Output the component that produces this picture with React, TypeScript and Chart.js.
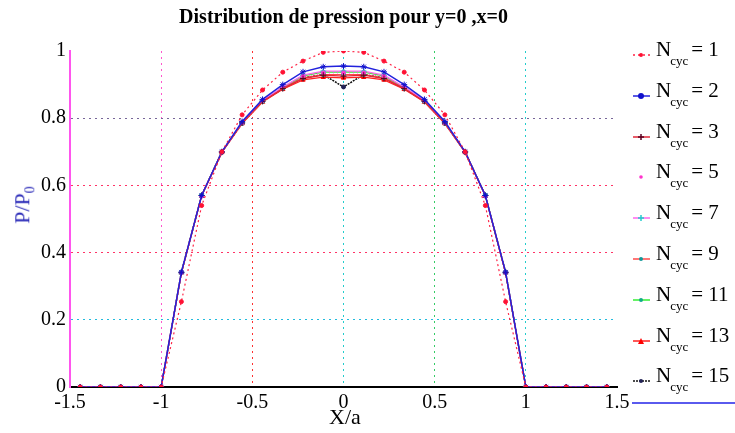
import React, { useEffect, useRef } from "react";
import { Chart, registerables } from "chart.js";
Chart.register(...registerables);

const xPositions = [-1.444, -1.333, -1.222, -1.111, -1, -0.889, -0.778, -0.667, -0.556, -0.444, -0.333, -0.222, -0.111, 0, 0.111, 0.222, 0.333, 0.444, 0.556, 0.667, 0.778, 0.889, 1, 1.111, 1.222, 1.333, 1.444];

const n1 = [0, 0, 0, 0, 0, 0.254, 0.54, 0.7, 0.81, 0.884, 0.937, 0.97, 0.996, 1.0, 0.996, 0.97, 0.937, 0.884, 0.81, 0.7, 0.54, 0.254, 0, 0, 0, 0, 0];
const n2 = [0, 0, 0, 0, 0, 0.342, 0.57, 0.7, 0.79, 0.856, 0.9, 0.938, 0.953, 0.955, 0.953, 0.938, 0.9, 0.856, 0.79, 0.7, 0.57, 0.342, 0, 0, 0, 0, 0];
const n3 = [0, 0, 0, 0, 0, 0.34, 0.57, 0.699, 0.786, 0.85, 0.888, 0.918, 0.928, 0.925, 0.928, 0.918, 0.888, 0.85, 0.786, 0.699, 0.57, 0.34, 0, 0, 0, 0, 0];
const n5 = [0, 0, 0, 0, 0, 0.34, 0.568, 0.7, 0.786, 0.852, 0.892, 0.925, 0.935, 0.935, 0.935, 0.925, 0.892, 0.852, 0.786, 0.7, 0.568, 0.34, 0, 0, 0, 0, 0];
const n7 = [0, 0, 0, 0, 0, 0.34, 0.57, 0.7, 0.787, 0.853, 0.893, 0.928, 0.94, 0.94, 0.94, 0.928, 0.893, 0.853, 0.787, 0.7, 0.57, 0.34, 0, 0, 0, 0, 0];
const n9 = [0, 0, 0, 0, 0, 0.34, 0.569, 0.699, 0.785, 0.85, 0.889, 0.92, 0.93, 0.93, 0.93, 0.92, 0.889, 0.85, 0.785, 0.699, 0.569, 0.34, 0, 0, 0, 0, 0];
const n11 = [0, 0, 0, 0, 0, 0.34, 0.57, 0.7, 0.786, 0.852, 0.891, 0.926, 0.937, 0.938, 0.937, 0.926, 0.891, 0.852, 0.786, 0.7, 0.57, 0.34, 0, 0, 0, 0, 0];
const n13 = [0, 0, 0, 0, 0, 0.34, 0.569, 0.698, 0.784, 0.848, 0.886, 0.914, 0.922, 0.92, 0.922, 0.914, 0.886, 0.848, 0.784, 0.698, 0.569, 0.34, 0, 0, 0, 0, 0];
const n15 = [0, 0, 0, 0, 0, 0.342, 0.57, 0.7, 0.785, 0.85, 0.888, 0.92, 0.93, 0.893, 0.93, 0.92, 0.888, 0.85, 0.785, 0.7, 0.57, 0.342, 0, 0, 0, 0, 0];

const seriesLabels = ["1", "2", "3", "5", "7", "9", "11", "13", "15"];
const seriesValues = [n1, n2, n3, n5, n7, n9, n11, n13, n15];

const xTicks = [-1.5, -1, -0.5, 0, 0.5, 1, 1.5];
const yTicks = [0, 0.2, 0.4, 0.6, 0.8, 1];

type Style = { line: string; marker: string; dash: number[]; width: number; pointStyle: string; radius: number };
const styles: Style[] = [
  { line: "#ff2244", marker: "#ff1133", dash: [2, 3], width: 1.2, pointStyle: "circle", radius: 2 },
  { line: "#2222dd", marker: "#1111cc", dash: [], width: 1.5, pointStyle: "star", radius: 3 },
  { line: "#e02838", marker: "#5a0020", dash: [], width: 1.2, pointStyle: "cross", radius: 3 },
  { line: "#ff44dd", marker: "#ff33cc", dash: [1, 3], width: 1, pointStyle: "circle", radius: 1.8 },
  { line: "#ff66ee", marker: "#22cccc", dash: [], width: 1.2, pointStyle: "cross", radius: 3 },
  { line: "#ff4848", marker: "#119999", dash: [], width: 1.2, pointStyle: "circle", radius: 2 },
  { line: "#33ee33", marker: "#11aa88", dash: [], width: 1.2, pointStyle: "circle", radius: 2 },
  { line: "#ff2020", marker: "#ff0000", dash: [], width: 1.2, pointStyle: "triangle", radius: 2.5 },
  { line: "#111111", marker: "#222255", dash: [2, 1], width: 1.5, pointStyle: "circle", radius: 2 },
];

const vGridColors: Record<string, string> = { "-1": "#ff55cc", "-0.5": "#ff3030", "0": "#22cccc", "0.5": "#33cc66", "1": "#22cccc" };
const hGridColors: Record<string, string> = { "0.2": "#22bbdd", "0.4": "#ff3366", "0.6": "#ff3366", "0.8": "#776699" };

function LegendSample({ s }: { s: Style }) {
  const shape =
    s.pointStyle === "triangle" ? (
      <polygon points="9,2 12,8 6,8" fill={s.marker} />
    ) : s.pointStyle === "cross" ? (
      <g stroke={s.marker} strokeWidth={1.5}>
        <line x1={9} y1={2} x2={9} y2={8} />
        <line x1={6} y1={5} x2={12} y2={5} />
      </g>
    ) : (
      <circle cx={9} cy={5} r={s.radius} fill={s.marker} />
    );
  return (
    <svg width={20} height={10} style={{ display: "block" }}>
      {s.pointStyle === "circle" && s.dash.length && s.dash[0] === 1 ? null : (
        <line x1={1} y1={5} x2={18} y2={5} stroke={s.line} strokeWidth={1.5} strokeDasharray={s.dash.length ? s.dash.join(",") : undefined} />
      )}
      {shape}
    </svg>
  );
}

export default function App() {
  const ref = useRef<HTMLCanvasElement | null>(null);
  useEffect(() => {
    if (!ref.current) return;
    const chart = new Chart(ref.current, {
      type: "line",
      data: {
        datasets: seriesValues.map((vals, i) => ({
          label: "N_cyc = " + seriesLabels[i],
          data: vals.map((v, j) => ({ x: xPositions[j], y: v })),
          borderColor: styles[i].line,
          backgroundColor: styles[i].marker,
          pointBorderColor: styles[i].marker,
          pointBackgroundColor: styles[i].marker,
          borderWidth: styles[i].width,
          borderDash: styles[i].dash,
          pointStyle: styles[i].pointStyle as any,
          pointRadius: styles[i].radius,
          pointBorderWidth: 1,
          tension: 0,
          fill: false,
        })),
      },
      options: {
        animation: false,
        responsive: false,
        maintainAspectRatio: false,
        layout: { padding: { left: 0, top: 51, right: 118, bottom: 0 } },
        plugins: { legend: { display: false }, title: { display: false }, tooltip: { enabled: false } },
        scales: {
          x: {
            type: "linear",
            min: -1.5,
            max: 1.5,
            afterBuildTicks: (s: any) => {
              s.ticks = xTicks.map((v) => ({ value: v }));
            },
            afterFit: (s: any) => {
              s.height = 46;
            },
            ticks: {
              color: "#000",
              font: { family: "Liberation Serif", size: 20 },
              padding: 4,
              maxRotation: 0,
              autoSkip: false,
              callback: (v: any) => String(v),
            },
            grid: {
              drawTicks: false,
              lineWidth: 1,
              color: (ctx: any) => vGridColors[String(ctx.tick?.value)] || "rgba(0,0,0,0)",
            },
            border: { display: true, color: "#000", width: 2, dash: [2, 4] },
          },
          y: {
            type: "linear",
            min: 0,
            max: 1,
            afterBuildTicks: (s: any) => {
              s.ticks = yTicks.map((v) => ({ value: v }));
            },
            afterFit: (s: any) => {
              s.width = 70;
            },
            ticks: {
              color: "#000",
              font: { family: "Liberation Serif", size: 20 },
              padding: 4,
              autoSkip: false,
              callback: (v: any) => String(v),
            },
            grid: {
              drawTicks: false,
              lineWidth: 1,
              color: (ctx: any) => hGridColors[String(ctx.tick?.value)] || "rgba(0,0,0,0)",
            },
            border: { display: true, color: "#ff55ee", width: 2, dash: [2, 4] },
          },
        },
      },
    } as any);
    return () => chart.destroy();
  }, []);

  return (
    <div style={{ position: "absolute", left: 0, top: 0, width: 735, height: 433, background: "#fff", fontFamily: "Liberation Serif" }}>
      <canvas ref={ref} width={735} height={433} style={{ position: "absolute", left: 0, top: 0, width: 735, height: 433 }} />
      <div style={{ position: "absolute", left: 70, width: 547, top: 5, textAlign: "center", fontWeight: "bold", fontSize: 20, color: "#000", whiteSpace: "nowrap" }}>
        Distribution de pression pour y=0 ,x=0
      </div>
      <div style={{ position: "absolute", left: 323, width: 44, top: 404, textAlign: "center", fontSize: 22, color: "#000" }}>X/a</div>
      <div style={{ position: "absolute", left: 24, top: 205, transform: "translate(-50%, -50%) rotate(-90deg)", fontSize: 22, color: "#2a2ab8", whiteSpace: "nowrap" }}>
        P/P<sub style={{ fontSize: 14 }}>0</sub>
      </div>
      <div style={{ position: "absolute", left: 632, top: 0, width: 103, height: 433, overflow: "hidden" }}>
        {seriesLabels.map((lab, i) => (
          <div key={lab} style={{ position: "absolute", left: 0, top: 36 + i * 40.8, height: 40, display: "flex", alignItems: "flex-start" }}>
            <div style={{ marginTop: 14 }}>
              <LegendSample s={styles[i]} />
            </div>
            <div style={{ marginLeft: 4, fontSize: 21, color: "#000", whiteSpace: "nowrap", lineHeight: "26px" }}>
              N<sub style={{ fontSize: 13, verticalAlign: "-9px", marginLeft: -1 }}>cyc</sub>
              <span style={{ marginLeft: 3 }}>= {lab}</span>
            </div>
          </div>
        ))}
        <div style={{ position: "absolute", left: 0, right: 0, top: 402, height: 2, background: "#5a5aee" }} />
      </div>
    </div>
  );
}
